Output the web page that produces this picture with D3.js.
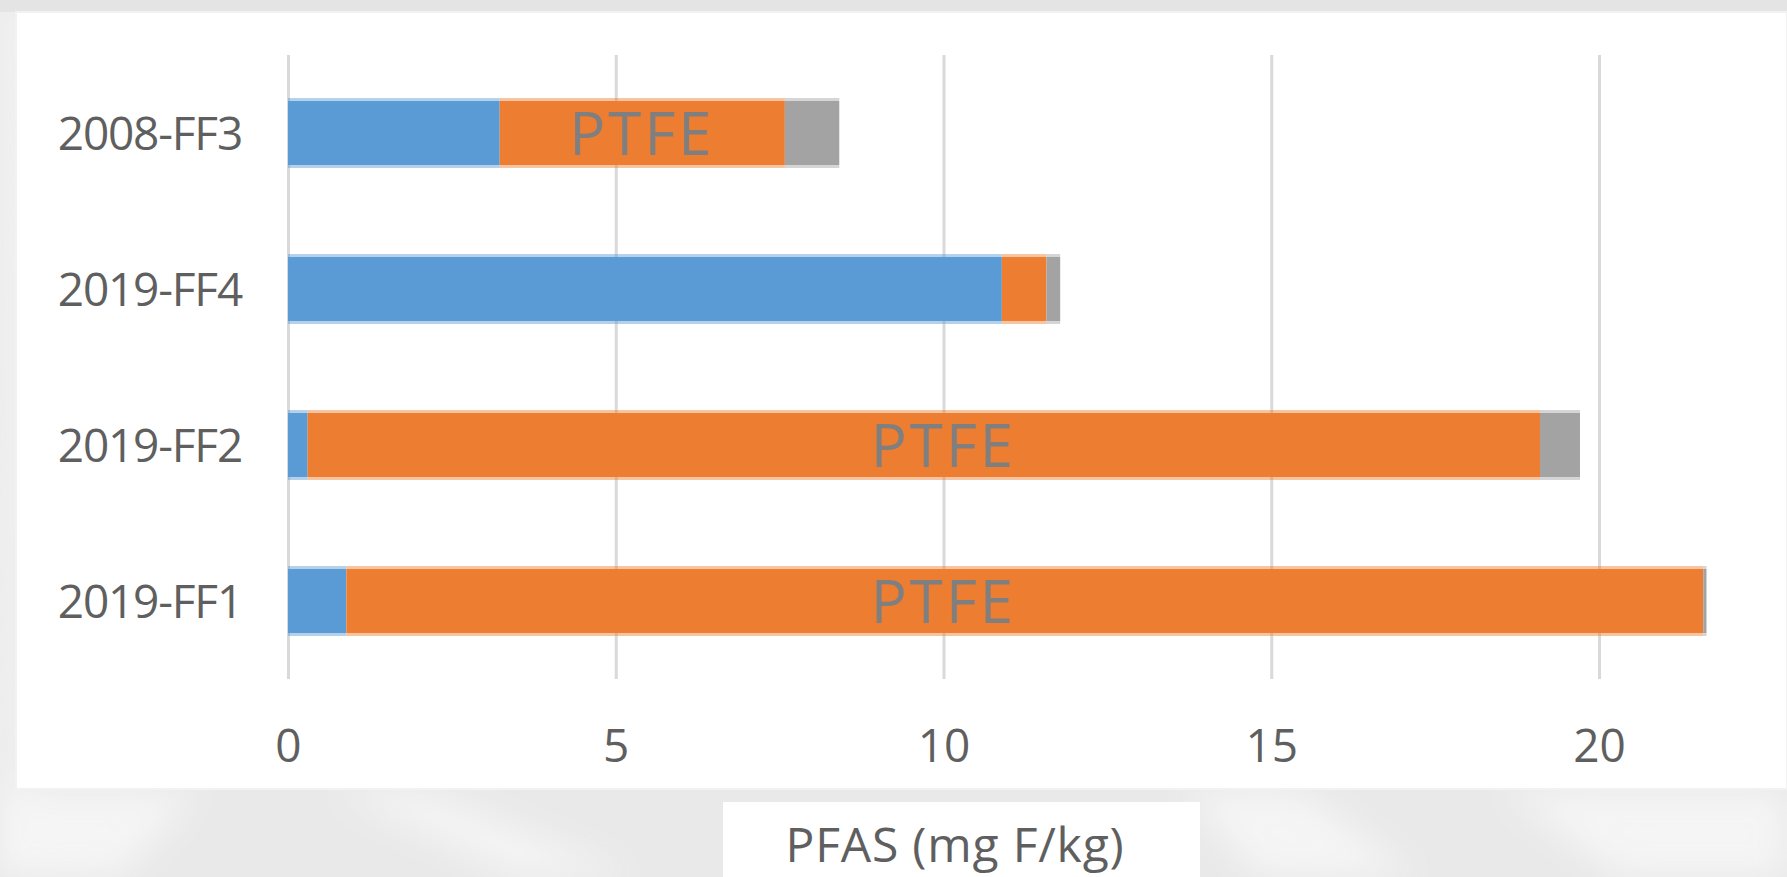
<!DOCTYPE html>
<html>
<head>
<meta charset="utf-8">
<script src="https://cdn.jsdelivr.net/npm/d3@7"></script>
<style>
  html, body { margin: 0; padding: 0; background: #ececec; }
  svg { display: block; }
  text { font-family: "Open Sans", "Noto Sans", "DejaVu Sans", sans-serif; }
</style>
</head>
<body>
<svg id="chart" width="1787" height="877"></svg>
<script>
// Samples, top to bottom
const categories = ["2008-FF3", "2019-FF4", "2019-FF2", "2019-FF1"];

// Stacked PFAS components (mg F/kg)
const seriesKeys = ["nonPolymer", "ptfe", "remainder"];
const nonPolymerValues = [3.23, 10.89, 0.30, 0.89];
const ptfeValues       = [4.35, 0.68, 18.80, 20.70];
const remainderValues  = [0.83, 0.21, 0.61, 0.05];

// In-bar labels and the axis value each is centred on
const ptfeLabels   = ["PTFE", "", "PTFE", "PTFE"];
const ptfeLabelAt  = [5.4, null, 10, 10];

const xTicks = [0, 5, 10, 15, 20];
const xTitle = "PFAS (mg F/kg)";

const colors = { nonPolymer: "#5b9bd5", ptfe: "#ed7d31", remainder: "#a3a3a3" };

const svg = d3.select("#chart");
const W = 1787, H = 877;

// ---- backdrop -------------------------------------------------------------
const defs = svg.append("defs");
defs.append("filter").attr("id", "soft").attr("x", "-50%").attr("y", "-50%")
  .attr("width", "200%").attr("height", "200%")
  .append("feGaussianBlur").attr("stdDeviation", 18);

svg.append("rect").attr("width", W).attr("height", H).attr("fill", "#e9e9e9");
const streaks = [
  [[0, 0], [30, 0], [20, 877], [0, 877]],
  [[330, 790], [420, 790], [640, 877], [520, 877]],
  [[1180, 790], [1300, 790], [1420, 877], [1260, 877]],
  [[1500, 790], [1787, 790], [1787, 877], [1620, 877]],
  [[0, 790], [200, 790], [120, 877], [0, 877]]
];
svg.append("g").attr("filter", "url(#soft)")
  .selectAll("path").data(streaks).join("path")
  .attr("d", d => d3.line()(d) + "Z")
  .attr("fill", "#f7f7f7").attr("opacity", 0.8);
svg.append("rect").attr("x", 0).attr("y", 0).attr("width", W).attr("height", 12)
  .attr("fill", "#e4e4e4");

// chart panel
svg.append("rect").attr("x", 16).attr("y", 12).attr("width", W - 16).attr("height", 777)
  .attr("fill", "#ffffff").attr("stroke", "#f2f2f2").attr("stroke-width", 2);

// ---- scales ---------------------------------------------------------------
const x = d3.scaleLinear().domain([0, 20]).range([288, 1599]);
const y = d3.scaleBand().domain(categories).range([55, 679])
  .paddingInner(0.59).paddingOuter(0.295);

// gridlines
const grid = d3.axisBottom(x).tickValues(xTicks).tickSize(-(679 - 55)).tickFormat("");
svg.append("g").attr("transform", "translate(0,679)").call(grid)
  .call(g => g.select(".domain").remove())
  .call(g => g.selectAll("line").attr("stroke", "#d9d9d9").attr("stroke-width", 3));

// ---- stacked bars ---------------------------------------------------------
const rows = categories.map((c, i) => ({
  category: c,
  nonPolymer: nonPolymerValues[i],
  ptfe: ptfeValues[i],
  remainder: remainderValues[i]
}));
const stacked = d3.stack().keys(seriesKeys)(rows);

svg.append("g").selectAll("g").data(stacked).join("g")
  .attr("fill", d => colors[d.key])
  .selectAll("rect").data(d => d).join("rect")
  .attr("x", d => x(d[0]))
  .attr("y", d => y(d.data.category))
  .attr("width", d => Math.max(0, x(d[1]) - x(d[0])))
  .attr("height", y.bandwidth());

// soft light edge along top and bottom of each bar
svg.append("g").selectAll("g").data(stacked).join("g")
  .attr("fill", d => colors[d.key]).attr("opacity", 0.45)
  .selectAll("rect").data(d => d.flatMap(s => [[s, -3], [s, y.bandwidth()]])).join("rect")
  .attr("x", d => x(d[0][0]))
  .attr("y", d => y(d[0].data.category) + d[1])
  .attr("width", d => Math.max(0, x(d[0][1]) - x(d[0][0])))
  .attr("height", 3);

// PTFE labels
svg.append("g").selectAll("text")
  .data(categories.map((c, i) => ({ c, t: ptfeLabels[i], v: ptfeLabelAt[i] })).filter(d => d.t))
  .join("text")
  .attr("x", d => x(d.v))
  .attr("y", d => y(d.c) + y.bandwidth() / 2)
  .attr("dy", "0.36em")
  .attr("text-anchor", "middle")
  .attr("font-size", 60)
  .attr("letter-spacing", "3px")
  .attr("fill", "#7f7f7f")
  .text(d => d.t);

// ---- axes -----------------------------------------------------------------
const yAxis = d3.axisLeft(y).tickSize(0).tickPadding(0);
svg.append("g").attr("transform", "translate(242,0)").call(yAxis)
  .call(g => g.select(".domain").remove())
  .call(g => g.selectAll("text")
    .attr("font-size", 46).attr("letter-spacing", "-1.2px")
    .attr("fill", "#5f5f5f").attr("dy", "0.36em")
    .style("font-family", "'Open Sans', sans-serif"));

const xAxis = d3.axisBottom(x).tickValues(xTicks).tickSize(0).tickFormat(d3.format("d"));
svg.append("g").attr("transform", "translate(0,745)").call(xAxis)
  .call(g => g.select(".domain").remove())
  .call(g => g.selectAll("text")
    .attr("y", 0).attr("dy", "0.36em")
    .attr("font-size", 46).attr("fill", "#5f5f5f")
    .style("font-family", "'Open Sans', sans-serif"));

// axis title in its own white box
svg.append("rect").attr("x", 723).attr("y", 802).attr("width", 477).attr("height", 80)
  .attr("fill", "#ffffff");
svg.append("text")
  .attr("x", 955).attr("y", 862)
  .attr("text-anchor", "middle")
  .attr("font-size", 48).attr("letter-spacing", "0.8px").attr("fill", "#5f5f5f")
  .text(xTitle);
</script>
</body>
</html>
